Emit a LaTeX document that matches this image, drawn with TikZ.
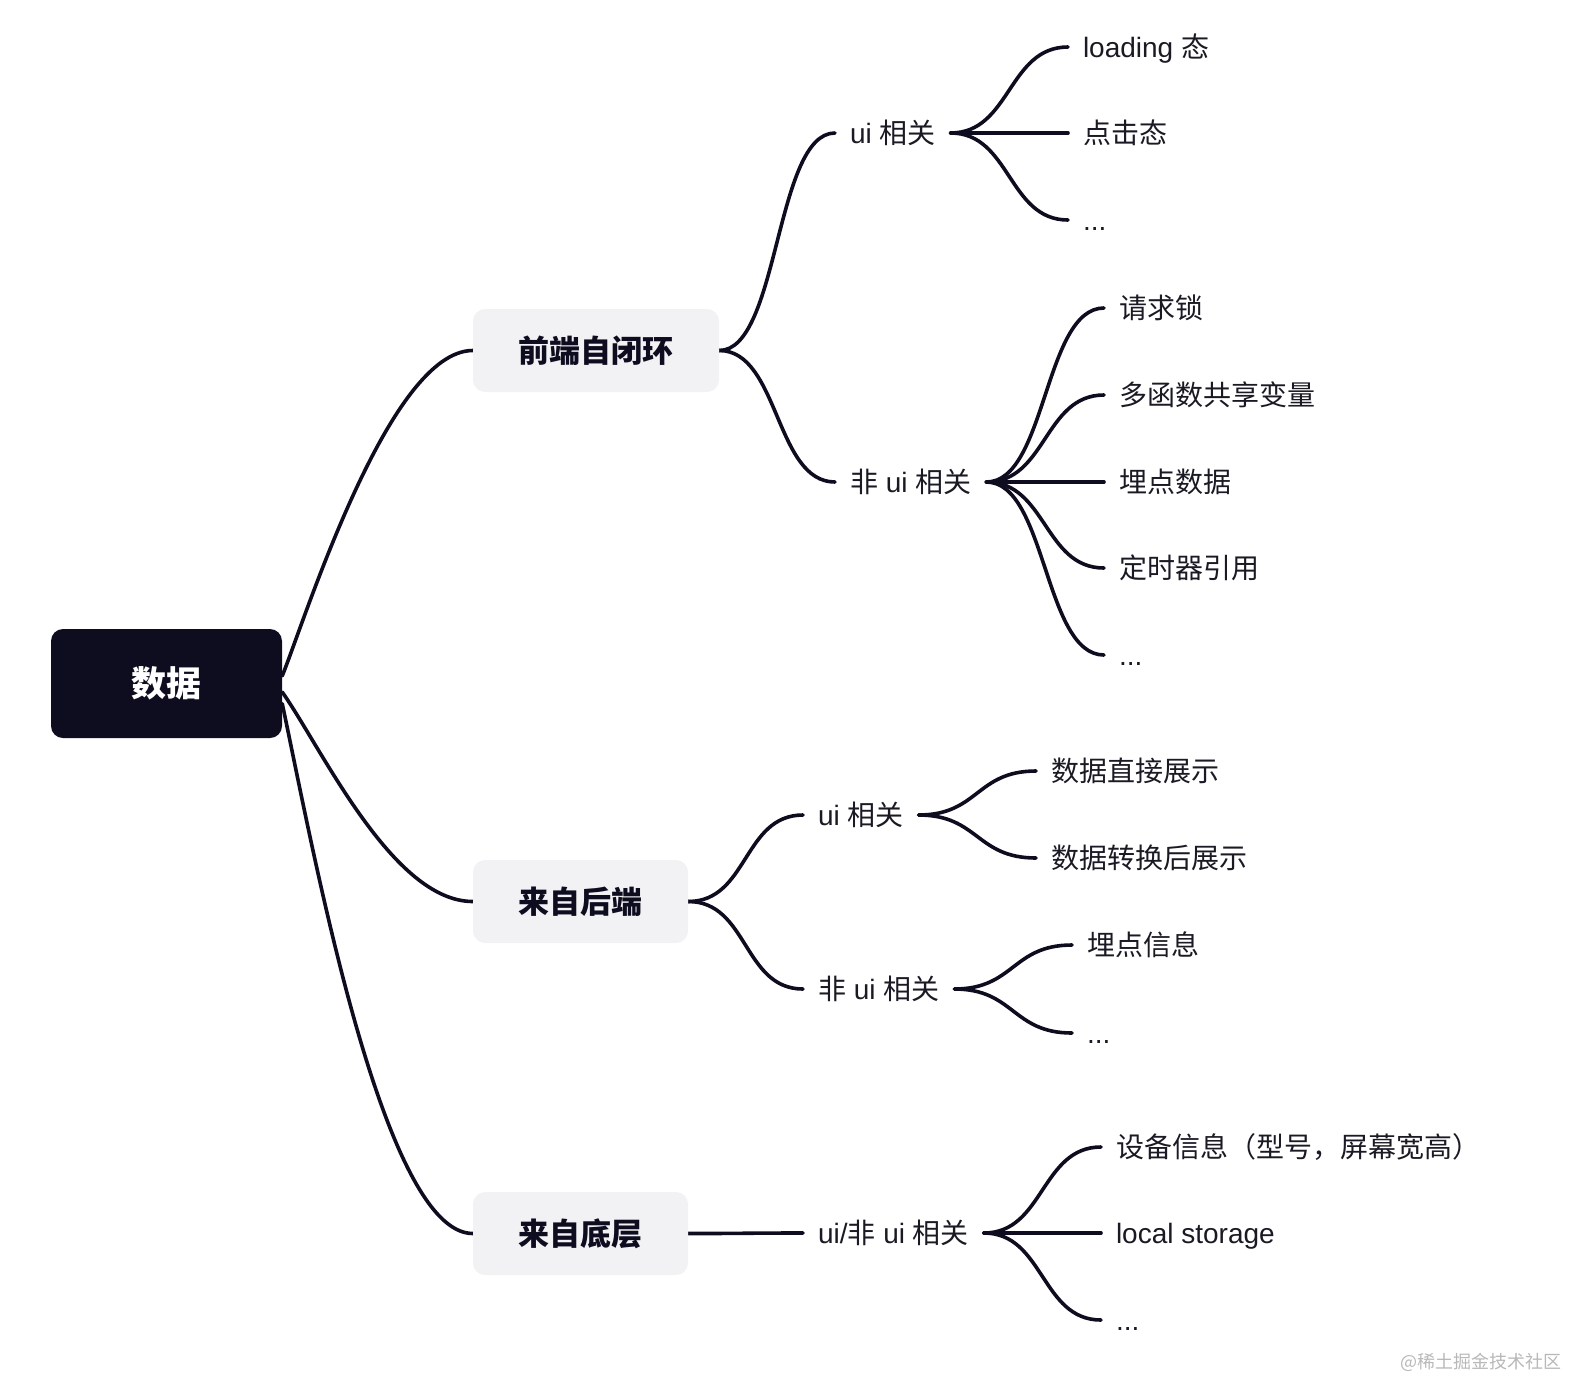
\documentclass[tikz,border=0pt]{standalone}
\usepackage{fontspec}
\setmainfont{Liberation Sans}
\newfontfamily\cjk{Noto Sans CJK SC}
\definecolor{ink}{HTML}{0E0D20}
\definecolor{boxgray}{HTML}{F2F2F4}
\definecolor{txt}{HTML}{1A1A24}
\pgfdeclarelayer{bg}
\pgfsetlayers{bg,main}
\begin{document}
\begin{tikzpicture}[x=1pt,y=-1pt,
  rootbox/.style={rectangle, rounded corners=12pt, fill=ink, text=white,
    minimum width=231pt, minimum height=109pt, inner sep=0pt,
    text height=28pt, text depth=1.5pt,
    font=\cjk\bfseries\fontsize{35}{40}\selectfont},
  topic/.style={rectangle, rounded corners=12pt, fill=boxgray, text=ink,
    minimum height=83pt, inner sep=0pt,
    text height=25pt, text depth=1.5pt,
    font=\cjk\bfseries\fontsize{31}{36}\selectfont},
  sub/.style={anchor=west, inner sep=0pt, outer xsep=15pt, outer ysep=0pt,
    text=txt, text height=24pt, text depth=4pt,
    font=\fontsize{28}{33}\selectfont},
  link/.style={draw=ink, line width=3.6pt, line cap=round},
  sc/.style={out=0, in=180, distance=60pt}
]
\useasboundingbox (0,0) rectangle (1570,1382);

% root and topics
\node[rootbox] (root) at (166.5,683.5) {数据};
\node[topic, minimum width=246pt] (fe) at (596,350.5) {前端自闭环};
\node[topic, minimum width=215pt] (be) at (580.5,901.5) {来自后端};
\node[topic, minimum width=215pt] (bl) at (580.5,1233.5) {来自底层};

% second level
\node[sub] (f1) at (835,133) {ui {\cjk 相关}};
\node[sub] (f2) at (835,482) {{\cjk 非} ui {\cjk 相关}};
\node[sub] (b1) at (803,815) {ui {\cjk 相关}};
\node[sub] (b2) at (803,989) {{\cjk 非} ui {\cjk 相关}};
\node[sub] (l1) at (803,1233) {ui/{\cjk 非} ui {\cjk 相关}};

% leaves
\node[sub] (f11) at (1068,47) {loading {\cjk 态}};
\node[sub] (f12) at (1068,133) {{\cjk 点击态}};
\node[sub] (f13) at (1068,220) {...};
\node[sub] (f21) at (1104,308) {{\cjk 请求锁}};
\node[sub] (f22) at (1104,395) {{\cjk 多函数共享变量}};
\node[sub] (f23) at (1104,482) {{\cjk 埋点数据}};
\node[sub] (f24) at (1104,568) {{\cjk 定时器引用}};
\node[sub] (f25) at (1104,655) {...};
\node[sub] (b11) at (1036,771) {{\cjk 数据直接展示}};
\node[sub] (b12) at (1036,858) {{\cjk 数据转换后展示}};
\node[sub] (b21) at (1072,945) {{\cjk 埋点信息}};
\node[sub] (b22) at (1072,1033) {...};
\node[sub] (l11) at (1101,1147) {{\cjk 设备信息（型号，屏幕宽高）}};
\node[sub] (l12) at (1101,1233) {local storage};
\node[sub] (l13) at (1101,1320) {...};

% watermark
\node[anchor=east, inner sep=0pt, text=black!28,
  font=\cjk\fontsize{18}{20}\selectfont] (wm) at (1562,1362) {@稀土掘金技术社区};

\begin{pgfonlayer}{bg}
  % root connectors
  \draw[link] ([yshift=7.5pt]root.east) to[out=68, in=180, out distance=60pt, in distance=84pt] (fe.west);
  \draw[link] ([yshift=-8.5pt]root.east) to[out=-55, in=180, out distance=70pt, in distance=80pt] (be.west);
  \draw[link] ([yshift=-20pt]root.east) to[out=-78, in=180, out distance=150pt, in distance=90pt] (bl.west);
  % topic -> second level
  \draw[link] (fe.east) to[sc] (f1.west);
  \draw[link] (fe.east) to[sc] (f2.west);
  \draw[link] (be.east) to[sc] (b1.west);
  \draw[link] (be.east) to[sc] (b2.west);
  \draw[link] (bl.east) to[sc] (l1.west);
  % second level -> leaves
  \draw[link] (f1.east) to[sc] (f11.west);
  \draw[link] (f1.east) to[sc] (f12.west);
  \draw[link] (f1.east) to[sc] (f13.west);
  \draw[link] (f2.east) to[sc] (f21.west);
  \draw[link] (f2.east) to[sc] (f22.west);
  \draw[link] (f2.east) to[sc] (f23.west);
  \draw[link] (f2.east) to[sc] (f24.west);
  \draw[link] (f2.east) to[sc] (f25.west);
  \draw[link] (b1.east) to[sc] (b11.west);
  \draw[link] (b1.east) to[sc] (b12.west);
  \draw[link] (b2.east) to[sc] (b21.west);
  \draw[link] (b2.east) to[sc] (b22.west);
  \draw[link] (l1.east) to[sc] (l11.west);
  \draw[link] (l1.east) to[sc] (l12.west);
  \draw[link] (l1.east) to[sc] (l13.west);
\end{pgfonlayer}
\end{tikzpicture}
\end{document}
